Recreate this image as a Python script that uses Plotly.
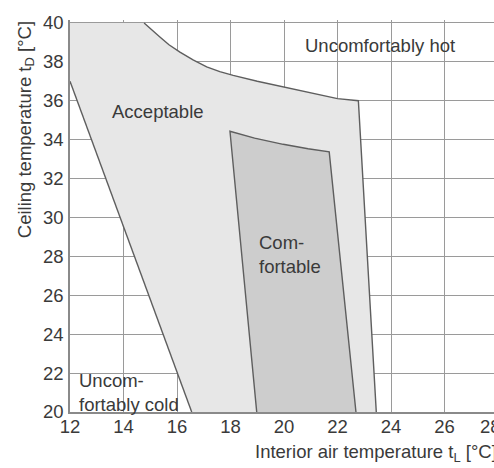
import plotly.graph_objects as go

# Interior air temperature (x) vs. ceiling temperature (y), both in °C
# "Acceptable" zone: lower-left boundary line
accept_left_x = [12.0, 16.55]
accept_left_y = [37.0, 20.0]
# "Acceptable" zone: upper curve and right edge
accept_right_x = [14.77, 15.0, 15.36, 15.7, 16.11, 16.6, 17.11, 17.6, 18.1, 19.0, 20.1, 21.0, 22.0, 22.78, 23.45]
accept_right_y = [40.0, 39.7, 39.28, 38.88, 38.5, 38.1, 37.74, 37.5, 37.3, 37.0, 36.68, 36.4, 36.11, 36.0, 20.0]

# "Comfortable" zone outline (left edge, top, right edge)
comfort_x = [18.98, 17.98, 18.9, 19.97, 20.9, 21.69, 22.69]
comfort_y = [20.0, 34.43, 34.08, 33.76, 33.53, 33.37, 20.0]

x_ticks = [12, 14, 16, 18, 20, 22, 24, 26]
y_ticks = [20, 22, 24, 26, 28, 30, 32, 34, 36, 38, 40]

FONT = "Liberation Sans, Arial, sans-serif"
TXT = "#3a3a3a"
FS = 18.5
EDGE = dict(color="#5e5e5e", width=1.4)

fig = go.Figure()

# Filled zones (closed along the left border, top border and bottom axis)
accept_fill_x = [12.0] + accept_right_x + accept_left_x[::-1]
accept_fill_y = [40.0] + accept_right_y + accept_left_y[::-1]
fig.add_trace(go.Scatter(
    x=accept_fill_x, y=accept_fill_y, fill="toself", mode="none",
    fillcolor="#e7e7e7", hoverinfo="skip", showlegend=False,
))
fig.add_trace(go.Scatter(
    x=comfort_x, y=comfort_y, fill="toself", mode="none",
    fillcolor="#cdcdcd", hoverinfo="skip", showlegend=False,
))

# Zone boundaries
for xs, ys in [(accept_left_x, accept_left_y), (accept_right_x, accept_right_y), (comfort_x, comfort_y)]:
    fig.add_trace(go.Scatter(
        x=xs, y=ys, mode="lines", line=EDGE, hoverinfo="skip", showlegend=False,
    ))

labels = [
    dict(x=15.29, y=35.46, text="Acceptable", xanchor="center", align="center"),
    dict(x=23.59, y=38.85, text="Uncomfortably hot", xanchor="center", align="center"),
    dict(x=18.99, y=28.1, text="Com-<br>fortable", xanchor="left", align="left"),
    dict(x=12.25, y=21.0, text="Uncom-<br>fortably cold", xanchor="left", align="left"),
]
for a in labels:
    fig.add_annotation(
        x=a["x"], y=a["y"], xref="x", yref="y", text=a["text"],
        xanchor=a["xanchor"], yanchor="middle", align=a["align"],
        showarrow=False, font=dict(family=FONT, size=FS, color=TXT),
    )

# Axis titles
fig.add_annotation(
    xref="paper", yref="paper", x=-0.104, y=1.003, xanchor="center", yanchor="top",
    text="Ceiling temperature t<sub>D</sub> [°C]", textangle=-90, showarrow=False,
    font=dict(family=FONT, size=FS, color=TXT),
)
fig.add_annotation(
    xref="paper", yref="paper", x=0.432, y=-0.104, xanchor="left", yanchor="middle",
    text="Interior air temperature t<sub>L</sub> [°C]", showarrow=False,
    font=dict(family=FONT, size=FS, color=TXT),
)
# Last x tick label, sitting past the visible end of the axis
fig.add_annotation(
    xref="paper", yref="paper", x=0.962, y=-0.004, xanchor="left", yanchor="top",
    text="28", showarrow=False, font=dict(family=FONT, size=FS, color=TXT),
)

fig.update_xaxes(
    range=[12, 12 + 424 / 26.75], tickvals=x_ticks, ticktext=[str(v) for v in x_ticks],
    showgrid=True, gridcolor="#9a9a9a", gridwidth=1.3,
    showline=True, linecolor="#8a8a8a", linewidth=1.5,
    zeroline=False, ticks="", tickfont=dict(family=FONT, size=FS, color=TXT),
    ticklabelstandoff=-3,
)
fig.update_yaxes(
    range=[20, 40.15], tickvals=y_ticks, ticktext=[str(v) for v in y_ticks],
    showgrid=True, gridcolor="#9a9a9a", gridwidth=1.3,
    showline=True, linecolor="#8a8a8a", linewidth=1.5,
    zeroline=False, ticks="", tickfont=dict(family=FONT, size=FS, color=TXT),
    ticklabelstandoff=1,
)

fig.update_layout(
    width=494, height=468,
    margin=dict(l=70, r=0, t=20, b=56),
    plot_bgcolor="white", paper_bgcolor="white",
    showlegend=False,
)

fig.write_html("out.html")
